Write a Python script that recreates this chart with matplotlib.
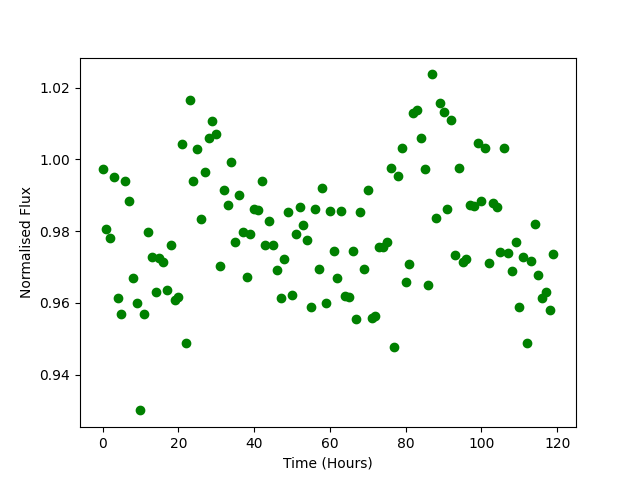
import numpy as np
import matplotlib
matplotlib.use("Agg")
import matplotlib.pyplot as plt

# hourly samples, 0..119
time_hours = np.arange(120)

flux = [
    0.9972, 0.9805, 0.9780, 0.9950, 0.9613, 0.9568, 0.9939, 0.9883, 0.9670, 0.9600,
    0.9300, 0.9568, 0.9797, 0.9727, 0.9630, 0.9724, 0.9713, 0.9635, 0.9760, 0.9607,
    0.9615, 1.0042, 0.9487, 1.0167, 0.9941, 1.0028, 0.9833, 0.9964, 1.0060, 1.0106,
    1.0072, 0.9702, 0.9916, 0.9872, 0.9994, 0.9771, 0.9900, 0.9797, 0.9671, 0.9791,
    0.9863, 0.9858, 0.9941, 0.9760, 0.9827, 0.9760, 0.9691, 0.9613, 0.9721, 0.9852,
    0.9621, 0.9791, 0.9866, 0.9816, 0.9774, 0.9587, 0.9861, 0.9693, 0.9919, 0.9600,
    0.9855, 0.9744, 0.9670, 0.9855, 0.9620, 0.9615, 0.9744, 0.9554, 0.9852, 0.9693,
    0.9916, 0.9557, 0.9562, 0.9755, 0.9755, 0.9769, 0.9975, 0.9476, 0.9953, 1.0033,
    0.9657, 0.9707, 1.0128, 1.0137, 1.0059, 0.9972, 0.9649, 1.0237, 0.9836, 1.0156,
    1.0131, 0.9861, 1.0111, 0.9732, 0.9975, 0.9713, 0.9721, 0.9872, 0.9869, 1.0045,
    0.9883, 1.0033, 0.9710, 0.9877, 0.9866, 0.9741, 1.0033, 0.9738, 0.9690, 0.9771,
    0.9587, 0.9727, 0.9487, 0.9716, 0.9819, 0.9677, 0.9613, 0.9630, 0.9579, 0.9735,
]

fig = plt.figure(figsize=(6.4, 4.8), dpi=100)
plt.plot(time_hours, flux, "go")
plt.xlabel("Time (Hours)")
plt.ylabel("Normalised Flux")
plt.savefig("out.png", dpi=100)
